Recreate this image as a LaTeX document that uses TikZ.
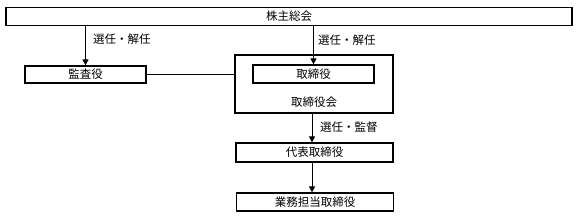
\documentclass[tikz,border=0pt]{standalone}
\usepackage{fontspec}
\setmainfont{Noto Sans CJK JP}
\usetikzlibrary{arrows.meta}
\tikzset{
  box/.style={draw=black, line width=1.3pt, rectangle, inner sep=0pt, font=\fontsize{11.5}{13}\selectfont},
  lbl/.style={inner sep=0pt, anchor=west, font=\fontsize{11.5}{13}\selectfont},
  arr/.style={line width=1pt, -{Triangle[width=6pt,length=6pt]}},
  ln/.style={line width=1pt}
}
\begin{document}
\begin{tikzpicture}[x=1pt,y=-1pt]
\useasboundingbox (0,0) rectangle (578,218);
\node[box, minimum width=566pt, minimum height=18pt] (agm) at (289,16.5) {株主総会};
\node[box, minimum width=121pt, minimum height=17pt] (kansa) at (85.5,74.5) {監査役};
\node[box, minimum width=158pt, minimum height=58pt] (council) at (314,84) {};
\node[box, minimum width=121pt, minimum height=18pt] (tori) at (313.5,74) {取締役};
\node[lbl, anchor=center] (councillbl) at (314,102) {取締役会};
\node[box, minimum width=157pt, minimum height=19pt] (daihyo) at (314.5,152.5) {代表取締役};
\node[box, minimum width=157pt, minimum height=18pt] (gyomu) at (315,202) {業務担当取締役};
\draw[arr] (agm.south -| kansa.north) -- (kansa.north);
\draw[arr] (agm.south -| tori.north) -- (tori.north);
\draw[ln] (kansa.east) -- (kansa.east -| council.west);
\draw[arr] (council.south -| 312,0) -- (daihyo.north -| 312,0);
\draw[arr] (daihyo.south -| 312,0) -- (gyomu.north -| 312,0);
\node[lbl] (l1) at (93,39.5) {選任・解任};
\node[lbl] (l2) at (318,40) {選任・解任};
\node[lbl] (l3) at (320,127.5) {選任・監督};
\end{tikzpicture}
\end{document}
